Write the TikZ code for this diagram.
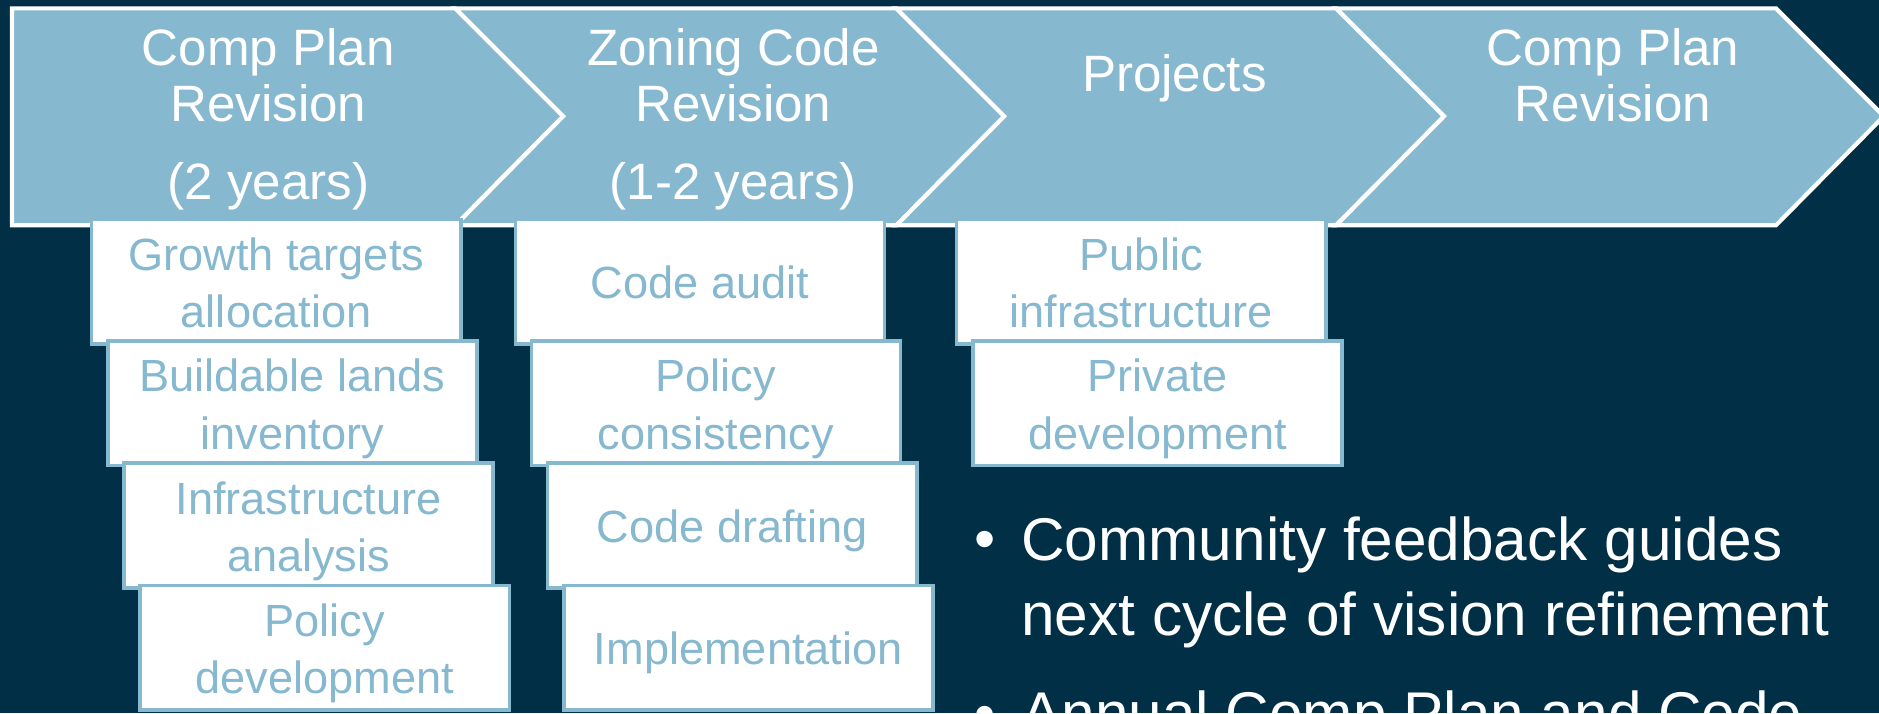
\documentclass[tikz,border=0pt]{standalone}
\usepackage{fontspec}
\setmainfont{Liberation Sans}
\definecolor{slidenavy}{RGB}{0,47,70}
\definecolor{slideblue}{RGB}{134,184,207}
\newcommand{\vstrut}{\rule[-0.2\baselineskip]{0pt}{\baselineskip}}
\tikzset{
	stage/.style={draw=white, line width=2.1pt, fill=slideblue},
	stagetext/.style={text=white, inner sep=0pt, align=center, font=\fontsize{25.6pt}{27.8pt}\selectfont},
	taskbox/.style={draw=slideblue, line width=1.8pt, fill=white, text=slideblue, inner sep=0pt,
		minimum width=184.8pt, minimum height=62.4pt, align=center, font=\fontsize{22.6pt}{28.7pt}\selectfont},
	bullettext/.style={text=white, inner sep=0pt, align=left, font=\fontsize{30.2pt}{37.8pt}\selectfont}
}
\begin{document}
\begin{tikzpicture}[x=0.6pt, y=-0.6pt]

	\useasboundingbox (0,0) rectangle (1568,595);
	\clip (0,0) rectangle (1568,595);
	\fill[slidenavy] (0,0) rectangle (1568,595);

	\draw[stage] (10,7) -- (380,7) -- (470,97) -- (380,188) -- (10,188) -- cycle;
	\draw[stage] (380,7) -- (748,7) -- (838,97) -- (748,188) -- (380,188) -- (470,97) -- cycle;
	\draw[stage] (748,7) -- (1115,7) -- (1205,97) -- (1115,188) -- (748,188) -- (838,97) -- cycle;
	\draw[stage] (1115,7) -- (1482,7) -- (1572,97) -- (1482,188) -- (1115,188) -- (1205,97) -- cycle;

	\node[stagetext, anchor=north] (compplan) at (224,17.4) {\vstrut Comp Plan\\\vstrut Revision};
	\node[stagetext, anchor=base] (compyears) at (224,166.5) {(2 years)};
	\node[stagetext, anchor=north] (zoning) at (612,17.4) {\vstrut Zoning Code\\\vstrut Revision};
	\node[stagetext, anchor=base] (zoningyears) at (612,166.5) {(1-2 years)};
	\node[stagetext, anchor=base] (projects) at (980,76.5) {Projects};
	\node[stagetext, anchor=north] (nextplan) at (1346,17.4) {\vstrut Comp Plan\\\vstrut Revision};

	\node[taskbox] (growth) at (230.5,235) {\vstrut Growth targets\\\vstrut allocation};
	\node[taskbox] (lands) at (244,336.5) {\vstrut Buildable lands\\\vstrut inventory};
	\node[taskbox] (infra) at (257.5,438.5) {\vstrut Infrastructure\\\vstrut analysis};
	\node[taskbox] (policy) at (271,540.5) {\vstrut Policy\\\vstrut development};

	\node[taskbox] (audit) at (584,235) {\vstrut Code audit};
	\node[taskbox] (consistency) at (597.4,336.5) {\vstrut Policy\\\vstrut consistency};
	\node[taskbox] (drafting) at (611,438.5) {\vstrut Code drafting};
	\node[taskbox] (implement) at (624.4,540.5) {\vstrut Implementation};

	\node[taskbox] (public) at (952.3,235) {\vstrut Public\\\vstrut infrastructure};
	\node[taskbox] (private) at (966,336.5) {\vstrut Private\\\vstrut development};

	\node[bullettext, anchor=base] (dotfeedback) at (822,467) {\textbullet};
	\node[bullettext, anchor=north west] (feedback) at (852,416.6) {\vstrut Community feedback guides\\\vstrut next cycle of vision refinement};
	\node[bullettext, anchor=base] (dotannual) at (822,613) {\textbullet};
	\node[bullettext, anchor=base west] (annual) at (852,613) {Annual Comp Plan and Code};
\end{tikzpicture}
\end{document}
